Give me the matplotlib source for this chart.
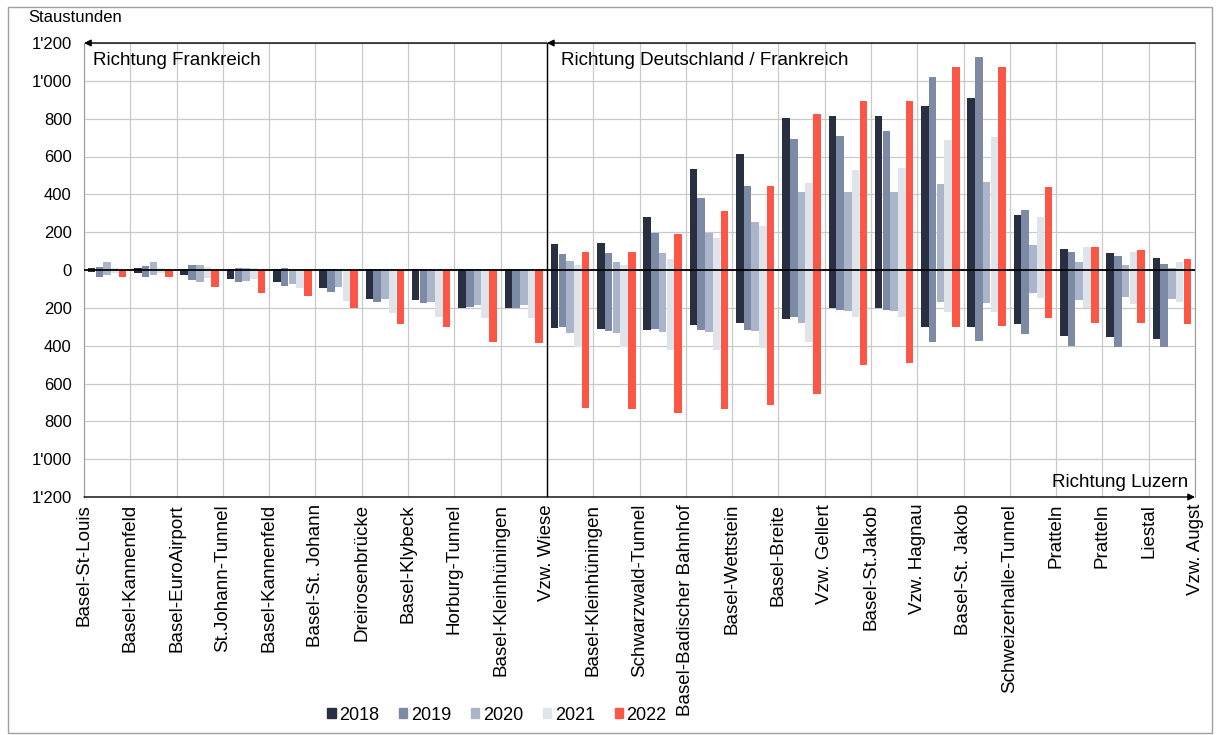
import matplotlib
matplotlib.use("Agg")
import matplotlib.pyplot as plt
from matplotlib.patches import Patch, Rectangle
from matplotlib.ticker import FuncFormatter
import numpy as np

plt.rcParams['font.family'] = ['Liberation Sans', 'DejaVu Sans']

# Knotenpunkte (Achsenbeschriftung an den Gitterlinien)
nodes = ["Basel-St-Louis", "Basel-Kannenfeld", "Basel-EuroAirport", "St.Johann-Tunnel",
         "Basel-Kannenfeld", "Basel-St. Johann", "Dreirosenbrücke", "Basel-Klybeck",
         "Horburg-Tunnel", "Basel-Kleinhüningen", "Vzw. Wiese", "Basel-Kleinhüningen",
         "Schwarzwald-Tunnel", "Basel-Badischer Bahnhof", "Basel-Wettstein", "Basel-Breite",
         "Vzw. Gellert", "Basel-St.Jakob", "Vzw. Hagnau", "Basel-St. Jakob",
         "Schweizerhalle-Tunnel", "Pratteln", "Pratteln", "Liestal", "Vzw. Augst"]

years = ["2018", "2019", "2020", "2021", "2022"]

# Staustunden Richtung Deutschland / Frankreich (positiv)
pos_2018 = [8, 10, 5, 5, 5, 5, 5, 5, 5, 5, 137, 141, 278, 534, 611, 802, 814, 816, 868, 907, 291, 109, 88, 62]
pos_2019 = [17, 20, 26, 10, 8, 5, 5, 5, 5, 5, 85, 92, 197, 379, 444, 691, 708, 736, 1018, 1124, 317, 97, 74, 32]
pos_2020 = [40, 40, 26, 10, 5, 5, 5, 5, 5, 5, 49, 40, 92, 194, 256, 414, 414, 414, 455, 467, 132, 44, 26, 9]
pos_2021 = [10, 10, 15, 10, 5, 5, 5, 5, 5, 5, 25, 25, 60, 170, 230, 458, 529, 537, 687, 705, 282, 123, 97, 40]
pos_2022 = [0, 0, 0, 0, 0, 0, 0, 0, 0, 0, 93, 97, 189, 312, 444, 825, 893, 893, 1071, 1071, 440, 120, 106, 56]

# Staustunden Richtung Frankreich / Luzern (negativ)
neg_2018 = [-9, -14, -26, -48, -62, -95, -154, -160, -203, -203, -308, -314, -317, -291, -278, -261, -199, -199, -300, -303, -286, -347, -352, -365]
neg_2019 = [-35, -39, -53, -65, -83, -117, -170, -176, -198, -203, -300, -321, -314, -317, -317, -250, -211, -211, -379, -375, -338, -400, -405, -409]
neg_2020 = [-26, -25, -62, -60, -72, -88, -155, -168, -185, -185, -335, -335, -330, -330, -320, -282, -215, -215, -167, -176, -123, -159, -141, -155]
neg_2021 = [-15, -15, -40, -50, -97, -163, -225, -247, -255, -255, -405, -405, -423, -423, -414, -379, -247, -247, -220, -220, -150, -200, -180, -170]
neg_2022 = [-35, -39, -88, -120, -137, -203, -284, -303, -379, -384, -731, -737, -754, -737, -714, -655, -502, -493, -300, -296, -256, -279, -282, -286]

pos = [pos_2018, pos_2019, pos_2020, pos_2021, pos_2022]
neg = [neg_2018, neg_2019, neg_2020, neg_2021, neg_2022]
colors = ["#272f40", "#7d8aa6", "#aab5c9", "#dfe3ea", "#fb5646"]

fig = plt.figure(figsize=(12.16, 7.35), dpi=100)
ax = fig.add_axes([84 / 1216, 1 - 497 / 735, (1195 - 84) / 1216, (497 - 43) / 735])

x = np.arange(len(nodes) - 1) + 0.5
w = 0.163
for j in range(5):
    ax.bar(x + (j - 2) * 0.167, pos[j], width=w, color=colors[j], zorder=2)
    ax.bar(x + (j - 2) * 0.167, neg[j], width=w, color=colors[j], zorder=2)

ax.set_xlim(0, len(nodes) - 1)
ax.set_ylim(-1200, 1200)
ax.set_yticks(np.arange(-1200, 1201, 200))
ax.yaxis.set_major_formatter(FuncFormatter(
    lambda v, p: f"{abs(int(v)):,}".replace(",", "'")))
ax.set_xticks(np.arange(len(nodes)))
ax.set_xticklabels(nodes, rotation=90, fontsize=13.5)
ax.tick_params(axis='y', length=0, pad=9, labelsize=12)
ax.tick_params(axis='x', length=0, pad=5)
ax.grid(color="#c9c9c9", lw=0.9, zorder=0)
ax.set_axisbelow(True)

for s in ["top", "bottom"]:
    ax.spines[s].set_visible(False)
for s in ["left", "right"]:
    ax.spines[s].set_color("#999999")

ax.axhline(0, color="black", lw=1.3, zorder=3)
ax.axvline(10, color="black", lw=1.0, zorder=3)

arrow = dict(arrowstyle='-|>', color='black', lw=1.0, mutation_scale=10,
             shrinkA=0, shrinkB=0)
ax.annotate('', xy=(0, 1200), xytext=(10, 1200), arrowprops=arrow, annotation_clip=False)
ax.annotate('', xy=(10, 1200), xytext=(24, 1200), arrowprops=arrow, annotation_clip=False)
ax.annotate('', xy=(24, -1200), xytext=(0, -1200), arrowprops=arrow, annotation_clip=False)

ax.text(0.2, 1110, "Richtung Frankreich", fontsize=13.5, ha='left', va='center')
ax.text(10.3, 1110, "Richtung Deutschland / Frankreich", fontsize=13.5, ha='left', va='center')
ax.text(23.85, -1125, "Richtung Luzern", fontsize=13.5, ha='right', va='center')

fig.text(28 / 1216, 1 - 18 / 735, "Staustunden", fontsize=12, ha='left', va='center')

handles = [Patch(color=c, label=y) for c, y in zip(colors, years)]
fig.legend(handles=handles, loc='center', bbox_to_anchor=(497 / 1216, 1 - 715 / 735),
           ncol=5, frameon=False, fontsize=13, handlelength=0.45, handleheight=0.45,
           handletextpad=0.2, columnspacing=1.1)

fig.patches.append(Rectangle((8 / 1216, 2 / 735), 1204 / 1216, 726 / 735,
                             transform=fig.transFigure, fill=False, ec="#a0a0a0", lw=1))

fig.savefig("out.png", dpi=100)
